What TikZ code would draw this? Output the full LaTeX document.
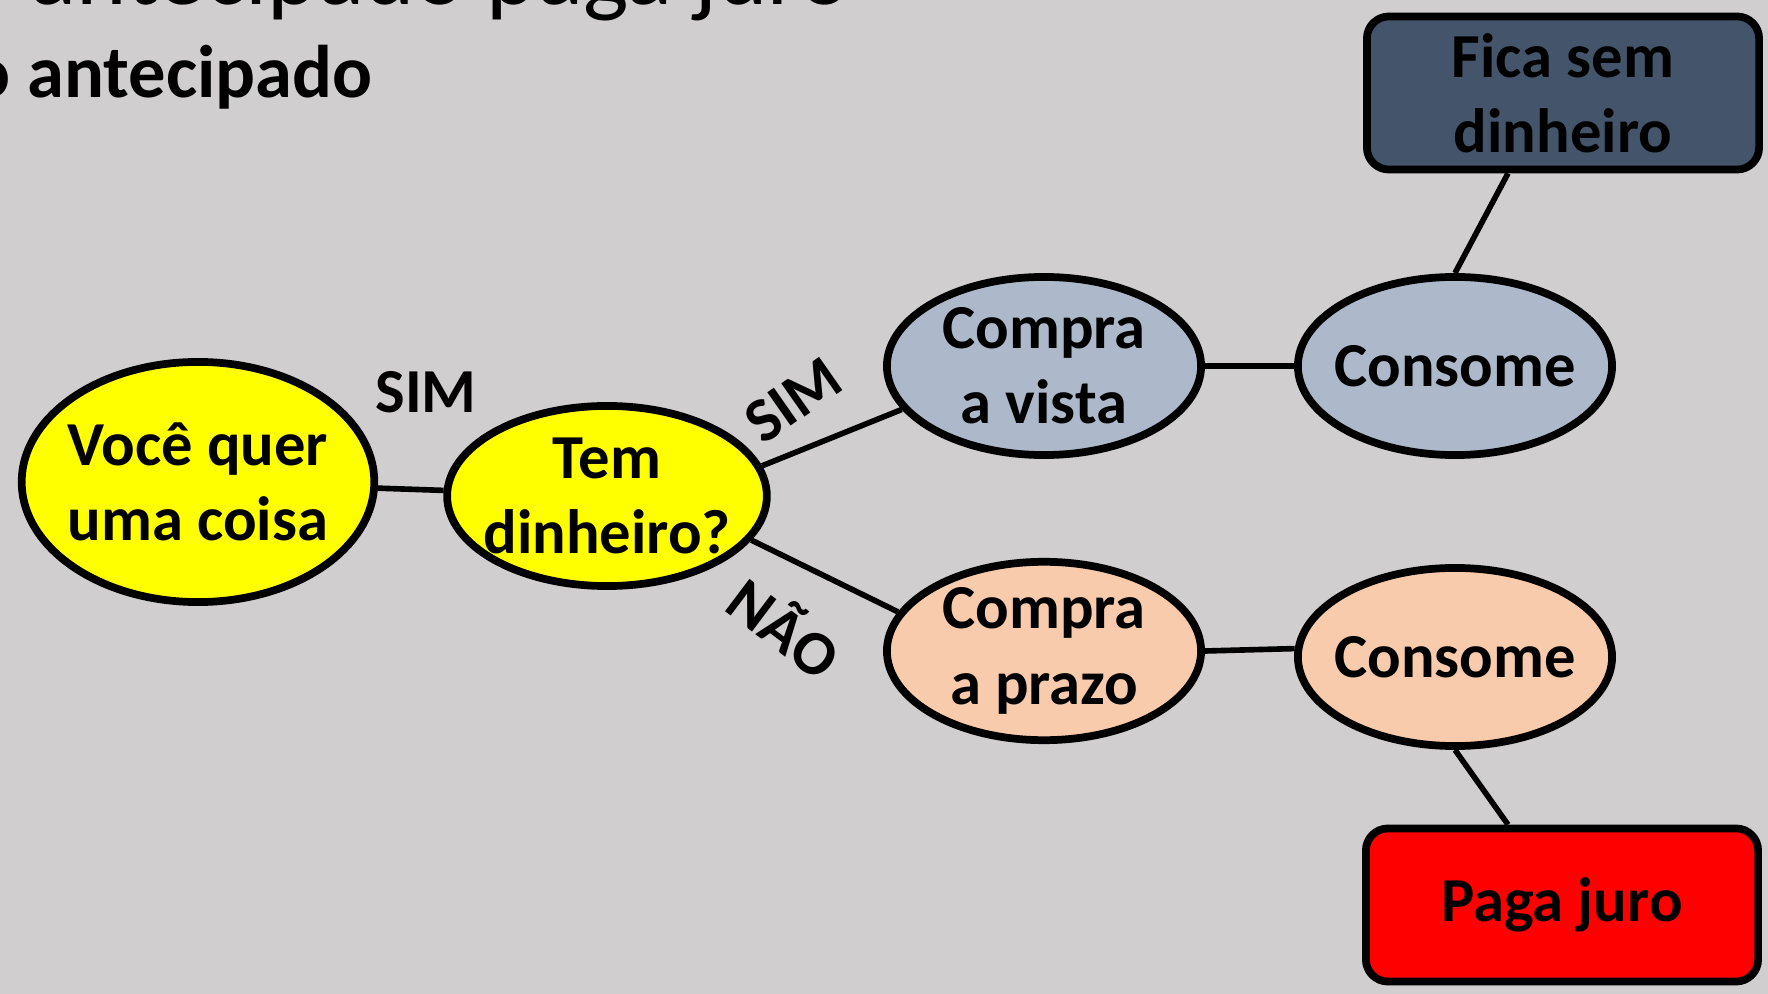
\documentclass[tikz,border=0pt]{standalone}
\usepackage{fontspec}
\setmainfont{Carlito}
\usetikzlibrary{shapes.geometric}
\definecolor{ColBack}{RGB}{208,206,206}
\definecolor{ColAsk}{RGB}{255,255,0}
\definecolor{ColSim}{RGB}{173,185,202}
\definecolor{ColNao}{RGB}{248,203,173}
\definecolor{ColFica}{RGB}{68,84,106}
\definecolor{ColJuro}{RGB}{255,0,0}
\tikzstyle{NodeTree}=[ellipse,draw=black,line width=2.2pt,inner ysep=0pt,inner xsep=-3pt,align=center,
font=\fontsize{17.8}{21.4}\selectfont\bfseries,minimum width=3.14cm,minimum height=1.78cm]
\tikzstyle{BoxTree}=[rectangle,rounded corners=0.22cm,draw=black,line width=2.2pt,inner sep=0pt,
align=center,font=\fontsize{17.8}{21.4}\selectfont\bfseries,minimum width=3.92cm,minimum height=1.53cm]
\tikzstyle{EdgeTree}=[black,line width=1.6pt]
\tikzstyle{LabelTree}=[font=\fontsize{17.8}{21.4}\selectfont\bfseries,inner sep=0pt]
\begin{document}
\begin{tikzpicture}[x=0.01cm,y=-0.01cm]
        \useasboundingbox (0,0) rectangle (1768,994);
        \clip (0,0) rectangle (1768,994);
        \fill[ColBack] (0,0) rectangle (1768,994);
        % title lines, cut by the page
        \node[anchor=base west,inner sep=0pt,font=\fontsize{27.3}{30}\selectfont](top)at(30,5){antecipado paga juro};
        \node[anchor=base west,inner sep=0pt,font=\fontsize{21.2}{25}\selectfont\bfseries](sub)at(-30,98){o antecipado};
        % tree
        \node[NodeTree,fill=ColAsk,inner xsep=-1.6pt,minimum width=3.48cm,minimum height=2.40cm](voce)at(198,482){Você quer\\uma coisa};
        \node[NodeTree,fill=ColAsk,minimum width=3.16cm,minimum height=1.80cm](tem)at(607,496){Tem\\dinheiro?};
        \node[NodeTree,fill=ColSim](cv)at(1044,366){Compra\\a vista};
        \node[NodeTree,fill=ColNao](cp)at(1044,651){Compra\\a prazo};
        \node[NodeTree,fill=ColSim](cons1)at(1455,366){Consome};
        \node[NodeTree,fill=ColNao](cons2)at(1455,657){Consome};
        \node[BoxTree,fill=ColFica](fica)at(1563,93){Fica sem\\dinheiro};
        \node[BoxTree,fill=ColJuro](juro)at(1562,905){Paga juro};
        \draw[EdgeTree](voce)--(tem);
        \draw[EdgeTree](tem.11)--(cv.197);
        \draw[EdgeTree](tem.343)--(cp.165);
        \draw[EdgeTree](cv.east)--(cons1.west);
        \draw[EdgeTree](cp.east)--(cons2.177);
        \draw[EdgeTree](cons1.north)--([xshift=-0.55cm]fica.south);
        \draw[EdgeTree](cons2.south)--([xshift=-0.54cm]juro.north);
        \node[LabelTree](sim1)at(426,392){SIM};
        \node[LabelTree,rotate=35](sim2)at(793,400){SIM};
        \node[LabelTree,rotate=-37](nao)at(786,626){NÃO};
    \end{tikzpicture}
\end{document}
